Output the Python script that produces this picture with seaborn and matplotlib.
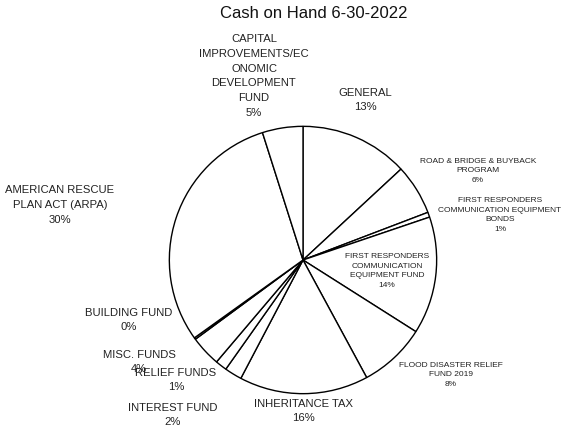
import matplotlib
matplotlib.use("Agg")
import matplotlib.pyplot as plt
import seaborn as sns

sns.set_theme(style="white")
plt.rcParams['font.family'] = ['Liberation Sans', 'DejaVu Sans']

title = "Cash on Hand 6-30-2022"

# slices, clockwise from 12 o'clock (share of total, %)
funds = [
    "GENERAL",
    "ROAD & BRIDGE & BUYBACK\nPROGRAM",
    "FIRST RESPONDERS\nCOMMUNICATION EQUIPMENT\nBONDS",
    "FIRST RESPONDERS\nCOMMUNICATION\nEQUIPMENT FUND",
    "FLOOD DISASTER RELIEF\nFUND 2019",
    "INHERITANCE TAX",
    "INTEREST FUND",
    "RELIEF FUNDS",
    "MISC. FUNDS",
    "BUILDING FUND",
    "AMERICAN RESCUE\nPLAN ACT (ARPA)",
    "CAPITAL\nIMPROVEMENTS/EC\nONOMIC\nDEVELOPMENT\nFUND",
]
shares = [13.1, 6.1, 0.6, 14.2, 8.1, 15.6, 2.1, 1.4, 3.7, 0.2, 30.0, 4.9]

# label placement (pixel centre in the figure) and size
label_xy = [
    (365, 100), (478, 171), (500, 215), (387, 271), (451, 375), (303, 411),
    (173, 415), (176, 380), (139, 362), (129, 320), (60, 205), (254, 76),
]
small = {1, 2, 3, 4}

W, H = 567, 430
fig = plt.figure(figsize=(W / 100, H / 100), dpi=100)
fig.patch.set_facecolor("white")

cx, cy, r = 303, 260, 135
ax = fig.add_axes([(cx - r) / W, (H - cy - r) / H, 2 * r / W, 2 * r / H])

ax.pie(
    shares, startangle=90, counterclock=False,
    colors=["white"] * len(shares),
    wedgeprops=dict(edgecolor="black", linewidth=1.0),
)
ax.set_xlim(-1.01, 1.01)
ax.set_ylim(-1.01, 1.01)
ax.set_aspect("equal")

total = sum(shares)
for i, (name, val) in enumerate(zip(funds, shares)):
    pct = f"{round(val / total * 100)}%"
    x, y = label_xy[i]
    fs = 6.0 if i in small else 8.1
    fig.text(x / W, 1 - y / H, f"{name}\n{pct}", ha="center", va="center",
             fontsize=fs, color="#222222",
             linespacing=1.6 if i not in small else 1.55)

fig.text(314 / W, 1 - 14 / H, title, ha="center", va="center",
         fontsize=12, color="#111111")

fig.savefig("out.png", dpi=100, facecolor="white")
